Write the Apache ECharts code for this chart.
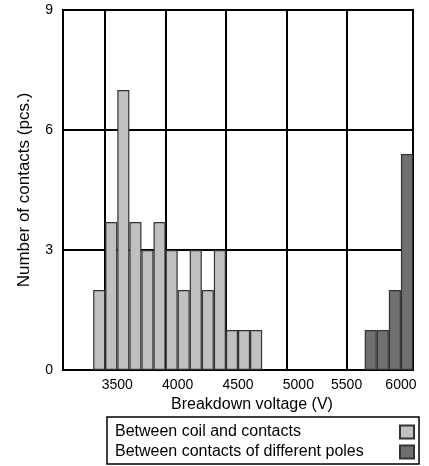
<!DOCTYPE html>
<html><head><meta charset="utf-8">
<script src="https://cdn.jsdelivr.net/npm/echarts@6/dist/echarts.min.js"></script>
<style>html,body{margin:0;padding:0;background:#fff}#c{width:429px;height:466px}</style>
</head><body><div id="c"></div>
<script>
// Bin centres (V) and counts
const coilBins = [3350, 3450, 3550, 3650, 3750, 3850, 3950, 4050, 4150, 4250, 4350, 4450, 4550, 4650];
const coilCounts = [2, 3.7, 7, 3.7, 3, 3.7, 3, 2, 3, 2, 3, 1, 1, 1];
const poleBins = [5600, 5700, 5800, 5900];
const poleCounts = [1, 1, 2, 5.4];
// x-axis tick labels and where they sit on the drawn axis
const xTickValues = [3500, 4000, 4500, 5000, 5400, 5850];
const xTickLabels = ['3500', '4000', '4500', '5000', '5500', '6000'];
const xGridValues = [3400, 3900, 4400, 4900, 5400];
const seriesNames = ['Between coil and contacts', 'Between contacts of different poles'];

const chart = echarts.init(document.getElementById('c'), null, {renderer: 'canvas'});
const font = 'Liberation Sans, Arial, sans-serif';
const narrow = 'Liberation Sans Narrow, Arial Narrow, Liberation Sans, sans-serif';
chart.setOption({
  animation: false,
  grid: {left: 63, right: 16, top: 10, bottom: 96, show: true, borderColor: '#000', borderWidth: 2, outerBoundsMode: 'none'},
  xAxis: {
    type: 'value', min: 3050, max: 5950,
    name: 'Breakdown voltage (V)', nameLocation: 'middle', nameGap: 25,
    nameTextStyle: {fontSize: 16, color: '#000', fontFamily: font, padding: [0, 0, 0, 28]},
    axisLine: {show: true, lineStyle: {color: '#000', width: 2}},
    axisTick: {show: false, customValues: xGridValues},
    splitLine: {show: true, lineStyle: {color: '#000', width: 2}},
    axisLabel: {
      customValues: xTickValues, fontSize: 14, color: '#000', fontFamily: narrow, margin: 8,
      formatter: v => xTickLabels[xTickValues.indexOf(v)] || ''
    }
  },
  yAxis: {
    type: 'value', min: 0, max: 9, interval: 3,
    name: 'Number of contacts (pcs.)', nameLocation: 'middle', nameGap: 30,
    nameTextStyle: {fontSize: 17, color: '#000', fontFamily: font},
    axisLine: {show: true, lineStyle: {color: '#000', width: 2}},
    axisTick: {show: false},
    splitLine: {show: true, lineStyle: {color: '#000', width: 2}},
    axisLabel: {fontSize: 14, color: '#000', fontFamily: font, margin: 10}
  },
  legend: {
    orient: 'vertical', left: 107, top: 417, height: 40, align: 'right',
    padding: [7, 4, 4, 8], itemGap: 4, itemWidth: 14, itemHeight: 13,
    borderColor: '#000', borderWidth: 1.5, icon: 'rect',
    data: seriesNames,
    formatter: n => '{t|' + n + '}',
    textStyle: {rich: {t: {width: 280, align: 'left', fontSize: 16, lineHeight: 16, color: '#000', fontFamily: font}}}
  },
  series: [
    {
      name: seriesNames[0], type: 'bar', barWidth: '100%', barGap: '-100%',
      itemStyle: {color: '#c0c0c0', borderColor: '#333', borderWidth: 1.2},
      data: coilBins.map((x, i) => [x, coilCounts[i]])
    },
    {
      name: seriesNames[1], type: 'bar', barWidth: '100%', barGap: '-100%',
      itemStyle: {color: '#707070', borderColor: '#333', borderWidth: 1.2},
      data: poleBins.map((x, i) => [x, poleCounts[i]])
    }
  ]
});
</script></body></html>
